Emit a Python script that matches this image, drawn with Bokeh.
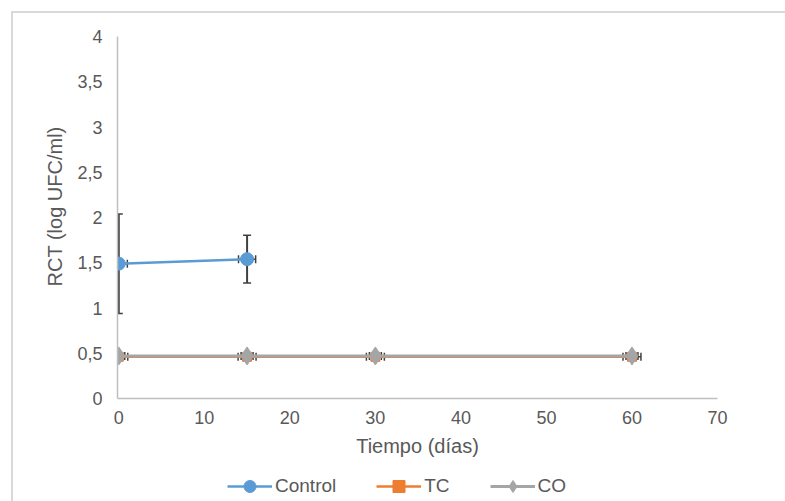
from bokeh.plotting import figure
from bokeh.layouts import column
from bokeh.models import (ColumnDataSource, Whisker, TeeHead, FixedTicker, Legend,
                          LegendItem)
from bokeh.embed import file_html
from bokeh.resources import INLINE

# ---- data ----
days_control = [0, 15]
control = [1.49, 1.54]
control_yerr = [0.55, 0.265]
control_xerr = [1.0, 1.0]

days_treat = [0, 15, 30, 60]
tc = [0.46, 0.46, 0.46, 0.46]
tc_xerr = [1.05, 1.05, 1.05, 1.05]
co = [0.47, 0.47, 0.47, 0.47]
co_xerr = [0.7, 0.7, 0.7, 0.7]

x_ticks = [0, 10, 20, 30, 40, 50, 60, 70]
y_ticks = [0, 0.5, 1, 1.5, 2, 2.5, 3, 3.5, 4]
y_tick_labels = ["0", "0,5", "1", "1,5", "2", "2,5", "3", "3,5", "4"]

series_names = ["Control", "TC", "CO"]
x_title = "Tiempo (días)"
y_title = "RCT (log UFC/ml)"

# ---- style ----
BLUE = "#5B9BD5"
ORANGE = "#ED7D31"
GRAY = "#A5A5A5"
ERR = "#404040"
TXT = "#595959"
AX = "#BFBFBF"
FONT = "Liberation Sans"

OX, OY = 13, 13  # page offset of figure origin (margin + border)
FL, FR, FT, FB = 117, 717, 36, 398  # frame in page coords
W, H = 780, 455
LH = 45

p = figure(width=W, height=H, x_range=(-0.15, 70), y_range=(0, 4),
           output_backend="svg", toolbar_location=None,
           min_border_left=FL - OX, min_border_right=OX + W - FR,
           min_border_top=FT - OY, min_border_bottom=OY + H - FB)
p.outline_line_color = None
p.grid.visible = False
p.background_fill_color = "white"
p.border_fill_color = "white"

for ax in (p.xaxis[0], p.yaxis[0]):
    ax.axis_line_color = AX
    ax.axis_line_width = 1.5
    ax.major_tick_line_color = None
    ax.minor_tick_line_color = None
    ax.major_tick_in = 0
    ax.major_tick_out = 0
    ax.major_label_text_font = FONT
    ax.major_label_text_font_size = "18px"
    ax.major_label_text_color = TXT
    ax.axis_label_text_font = FONT
    ax.axis_label_text_font_size = "20px"
    ax.axis_label_text_font_style = "normal"
    ax.axis_label_text_color = TXT

p.xaxis.ticker = FixedTicker(ticks=x_ticks)
p.yaxis.ticker = FixedTicker(ticks=y_ticks)
p.yaxis.major_label_overrides = {t: l for t, l in zip(y_ticks, y_tick_labels)}
p.xaxis.major_label_standoff = 12
p.yaxis.major_label_standoff = 15
p.xaxis.axis_label = x_title
p.xaxis.axis_label_standoff = 8
# leading no-break spaces nudge the centred vertical title upward, as in the reference
p.yaxis.axis_label = "\u00a0\u00a0\u00a0\u00a0" + y_title
p.yaxis.axis_label_standoff = 8

src_c = ColumnDataSource(dict(x=days_control, y=control,
                              ylo=[v - e for v, e in zip(control, control_yerr)],
                              yhi=[v + e for v, e in zip(control, control_yerr)],
                              xlo=[d - e for d, e in zip(days_control, control_xerr)],
                              xhi=[d + e for d, e in zip(days_control, control_xerr)]))
src_t = ColumnDataSource(dict(x=days_treat, y=tc,
                              xlo=[d - e for d, e in zip(days_treat, tc_xerr)],
                              xhi=[d + e for d, e in zip(days_treat, tc_xerr)]))
src_o = ColumnDataSource(dict(x=days_treat, y=co,
                              xlo=[d - e for d, e in zip(days_treat, co_xerr)],
                              xhi=[d + e for d, e in zip(days_treat, co_xerr)]))

def series(fig, sc, st, so):
    lc = fig.line("x", "y", source=sc, line_color=BLUE, line_width=2.5)
    mc = fig.scatter("x", "y", source=sc, marker="circle", size=13,
                     fill_color=BLUE, line_color=BLUE)
    lt = fig.line("x", "y", source=st, line_color=ORANGE, line_width=2.5)
    mt = fig.scatter("x", "y", source=st, marker="square", size=9,
                     fill_color=ORANGE, line_color=ORANGE)
    lo = fig.line("x", "y", source=so, line_color=GRAY, line_width=3)
    mo = fig.scatter("x", "y", source=so, marker="diamond", size=18,
                     fill_color=GRAY, line_color=GRAY)
    return [lc, mc], [lt, mt], [lo, mo]

series(p, src_c, src_t, src_o)

def head():
    return TeeHead(size=8, line_color=ERR, line_width=1.5)

p.add_layout(Whisker(source=src_c, base="x", lower="ylo", upper="yhi", dimension="height",
                     line_color=ERR, line_width=2, upper_head=head(), lower_head=head()))
for s in (src_c, src_t, src_o):
    p.add_layout(Whisker(source=s, base="y", lower="xlo", upper="xhi", dimension="width",
                         line_color=ERR, line_width=1.5, upper_head=head(), lower_head=head()))

# ---- legend strip below the chart (same series, ranges chosen so no marks show) ----
lf = figure(width=W, height=LH, x_range=(1000, 1001), y_range=(1000, 1001),
            output_backend="svg", toolbar_location=None, min_border=0)
lf.axis.visible = False
lf.grid.visible = False
lf.outline_line_color = None
lf.border_fill_color = "white"
lf.background_fill_color = "white"
rc, rt, ro = series(lf, src_c, src_t, src_o)

legend = Legend(items=[LegendItem(label=series_names[0], renderers=rc),
                       LegendItem(label=series_names[1], renderers=rt),
                       LegendItem(label=series_names[2], renderers=ro)],
                orientation="horizontal", location=(227 - FL, 12),
                glyph_width=45, glyph_height=30, label_height=20, label_standoff=3,
                spacing=40, padding=0, margin=0,
                label_text_font=FONT, label_text_font_size="19px", label_text_color=TXT,
                border_line_color=None, background_fill_alpha=0)
lf.add_layout(legend, "center")

layout = column(p, lf, spacing=0)
layout.margin = (11, 0, 0, 11)
layout.styles = {"border-top": "2px solid #D9D9D9", "border-left": "2px solid #D9D9D9"}

open("out.html", "w").write(file_html(layout, INLINE))
